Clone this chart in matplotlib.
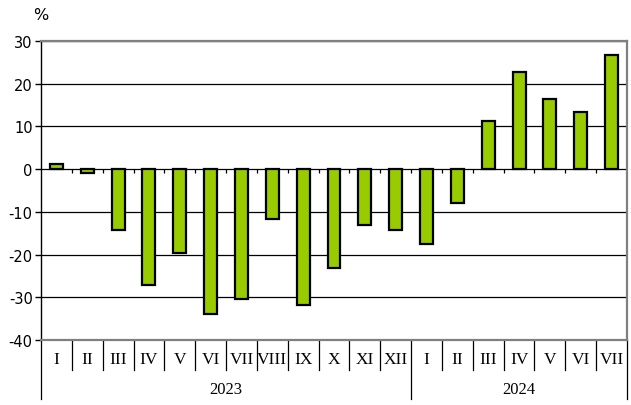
import numpy as np
import matplotlib
matplotlib.use("Agg")
import matplotlib.pyplot as plt
import matplotlib.transforms as mtransforms

plt.rcParams["axes.unicode_minus"] = False

# Data
months_2023 = ["I", "II", "III", "IV", "V", "VI", "VII", "VIII", "IX", "X", "XI", "XII"]
months_2024 = ["I", "II", "III", "IV", "V", "VI", "VII"]
values_2023 = [1.3, -1.0, -14.3, -27.1, -19.7, -34.0, -30.5, -11.6, -31.8, -23.1, -13.1, -14.2]
values_2024 = [-17.6, -7.9, 11.3, 22.7, 16.4, 13.3, 26.7]
years = ["2023", "2024"]

labels = months_2023 + months_2024
values = values_2023 + values_2024
x = np.arange(len(values))

fig = plt.figure(figsize=(6.31, 4.06), dpi=100)
ax = fig.add_axes([41 / 631, (406 - 341) / 406, (627 - 41) / 631, (341 - 42) / 406])

ax.set_xlim(-0.5, len(values) - 0.5)
ax.set_ylim(-40, 30)
ax.set_yticks(range(-40, 31, 10))
ax.yaxis.grid(True, color="black", linewidth=0.9)
ax.set_axisbelow(True)

ax.bar(x, values, width=0.42, color="#99cc00", edgecolor="black", linewidth=1.6, zorder=3)

# frame
for s in ["top", "right", "bottom"]:
    ax.spines[s].set_color("#808080")
    ax.spines[s].set_linewidth(1.6)
ax.spines["left"].set_color("black")
ax.spines["left"].set_linewidth(1.0)

ax.tick_params(axis="y", direction="out", length=4, width=1, labelsize=10.5, pad=2)
ax.tick_params(axis="x", length=0, labelbottom=False)

# zero line ticks between categories
bounds = np.arange(len(values) + 1) - 0.5
ax.vlines(bounds[1:-1], -1.0, 0, color="black", linewidth=0.9, zorder=2)

# category labels
trans = mtransforms.blended_transform_factory(ax.transData, ax.transAxes)
h = 299.0  # axes height in px
for xi, lab in zip(x, labels):
    ax.text(xi, -19 / h, lab, transform=trans, ha="center", va="center",
            family="Liberation Serif", fontsize=12.5, clip_on=False)

n23 = len(months_2023)
for b in bounds:
    bot = -59 / h if b in (bounds[0], bounds[n23], bounds[-1]) else -30 / h
    ax.plot([b, b], [0, bot], transform=trans, color="black", linewidth=0.9, clip_on=False)

ax.text((n23 - 1) / 2, -49 / h, years[0], transform=trans, ha="center", va="center",
        family="Liberation Serif", fontsize=12, clip_on=False)
ax.text(n23 + (len(months_2024) - 1) / 2, -49 / h, years[1], transform=trans, ha="center",
        va="center", family="Liberation Serif", fontsize=12, clip_on=False)

fig.text(33 / 631, 1 - 16 / 406, "%", ha="left", va="center", fontsize=11.5)

fig.savefig("out.png", dpi=100)
